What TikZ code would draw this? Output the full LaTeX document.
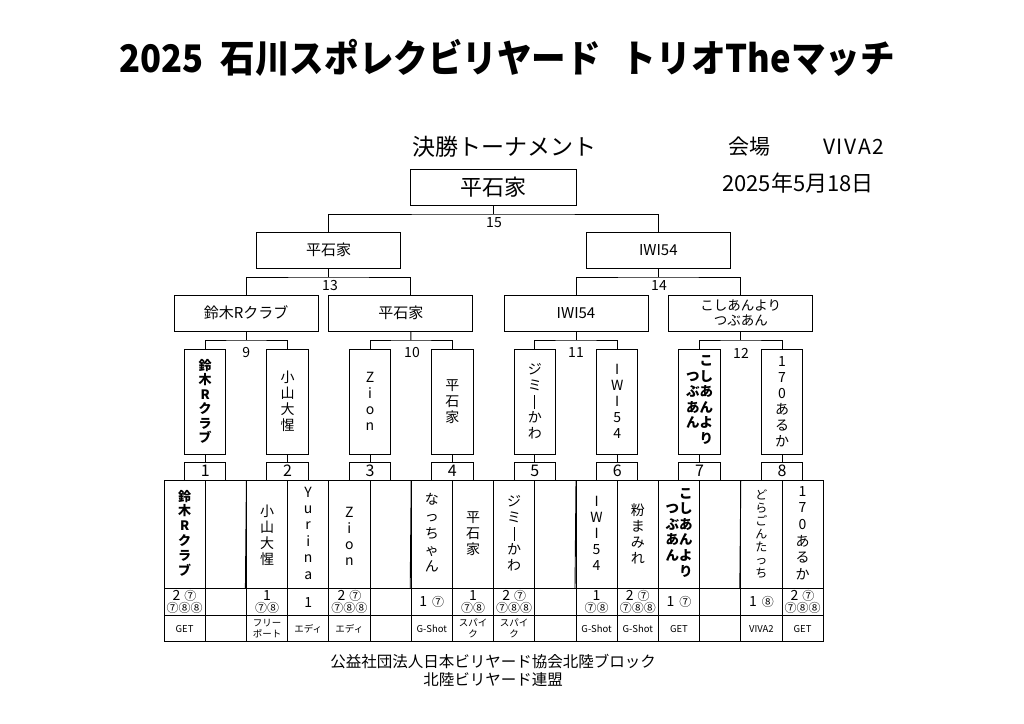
\documentclass[tikz,border=0pt]{standalone}
\usepackage{fontspec}
\usepackage{graphicx}
\setmainfont{Noto Sans CJK JP}
\newcommand\X[1]{164+41.2*(#1-0.5)}
\newcommand\B[1]{164+41.2*#1}
\newcommand\vbar{\raisebox{-2.5pt}{\rule{1.1pt}{14pt}}}
\newcommand\vcol[1]{\begin{tabular}{@{}c@{}}#1\end{tabular}}
\begin{document}
\begin{tikzpicture}[x=1pt,y=-1pt,
  conn/.style={line width=0.9pt},
  box/.style={draw, line width=0.9pt, inner sep=0pt, minimum height=36pt, align=center},
  wide/.style={box, minimum width=144pt, font=\fontsize{15}{15}\selectfont},
  vbox/.style={draw, line width=0.9pt, inner sep=0pt, minimum width=41.4pt, minimum height=105pt, align=center, font=\fontsize{14}{16}\selectfont},
  nbox/.style={draw, line width=0.9pt, inner sep=0pt, minimum width=41.4pt, minimum height=18pt, font=\fontsize{16}{16}\selectfont},
  lbl/.style={inner sep=0pt, font=\fontsize{14}{14}\selectfont},
  nm/.style={inner sep=0pt, align=center, font=\fontsize{14}{16}\selectfont},
  sc/.style={inner sep=0pt, align=center, font=\fontsize{12}{12}\selectfont},
  shop/.style={inner sep=0pt, align=center, font=\fontsize{9.5}{11}\selectfont},
  txt/.style={inner sep=0pt},
]
\fill[white] (0,0) rectangle (1024,723);
\useasboundingbox (0,0) rectangle (1024,723);

% titles
\node[txt] (title) at (507,58) {\scalebox{0.91}[1]{\fontsize{38}{38}\selectfont\bfseries 2025\hspace{0.5em}石川スポレクビリヤード\hspace{0.6em}トリオTheマッチ}};
\node[txt, anchor=west, font=\fontsize{23}{23}\selectfont] (sub) at (412,147) {決勝トーナメント};
\node[txt, anchor=west, font=\fontsize{21}{21}\selectfont] (venue) at (728,147) {会場\hspace{53pt}{\addfontfeature{LetterSpace=8}VIVA2}};
\node[txt, anchor=west, font=\fontsize{22}{22}\selectfont] (date) at (722,183) {2025年5月18日};

% final / semis / quarters
\node[box, minimum width=166pt, font=\fontsize{22}{22}\selectfont] (final) at (493,187) {平石家};
\node[wide] (sf1) at (328.7,250) {平石家};
\node[wide] (sf2) at (658.3,250) {IWI54};
\node[wide] (qf1) at (246.2,313) {鈴木Rクラブ};
\node[wide] (qf2) at (400.8,313) {平石家};
\node[wide] (qf3) at (576,313) {IWI54};
\node[wide, font=\fontsize{13.5}{15}\selectfont] (qf4) at (740.8,313) {こしあんより\\つぶあん};

\coordinate (j15) at (493,214);
\coordinate (j13) at (328.7,277);
\coordinate (j14) at (658.3,277);
\draw[conn] (final.south) -- (j15);
\draw[conn] (sf1.north) |- (j15) -| (sf2.north);
\draw[conn] (sf1.south) -- (j13);
\draw[conn] (qf1.north) |- (j13) -| ([xshift=10.1pt]qf2.north);
\draw[conn] (sf2.south) -- (j14);
\draw[conn] (qf3.north) |- (j14) -| (qf4.north);
\node[lbl] (l15) at (494,223) {15};
\node[lbl] (l13) at (330,286) {13};
\node[lbl] (l14) at (659,286) {14};

% first-round boxes
\node[vbox, font=\bfseries\fontsize{13}{14.5}\selectfont] (r1) at ({\B{1}},401.5) {鈴\\木\\R\\ク\\ラ\\ブ};
\node[vbox] (r2) at ({\B{3}},401.5) {小\\山\\大\\惺};
\node[vbox] (r3) at ({\B{5}},401.5) {Z\\i\\o\\n};
\node[vbox] (r4) at ({\B{7}},401.5) {平\\石\\家};
\node[vbox] (r5) at ({\B{9}},401.5) {ジ\\ミ\\\vbar\\か\\わ};
\node[vbox] (r6) at ({\B{11}},401.5) {I\\W\\I\\5\\4};
\node[vbox, font=\bfseries\fontsize{13.5}{15.5}\selectfont] (r7) at ({\B{13}},401.5) {\vcol{つ\\ぶ\\あ\\ん}\vcol{こ\\し\\あ\\ん\\よ\\り}};
\node[vbox] (r8) at ({\B{15}},401.5) {1\\7\\0\\あ\\る\\か};

\foreach \i/\k in {1/1,2/3,3/5,4/7,5/9,6/11,7/13,8/15}{
  \node[nbox] (n\i) at ({\B{\k}},471) {\i};
  \draw[conn] (r\i.south) -- (n\i.north);
}

\coordinate (j9) at (246.2,340);
\coordinate (j10) at (410.9,340);
\coordinate (j11) at (576,340);
\coordinate (j12) at (740.8,340);
\draw[conn] (qf1.south) -- (j9);
\draw[conn] (r1.north) |- (j9) -| (r2.north);
\draw[conn] ([xshift=10.1pt]qf2.south) -- (j10);
\draw[conn] (r3.north) |- (j10) -| (r4.north);
\draw[conn] (qf3.south) -- (j11);
\draw[conn] (r5.north) |- (j11) -| (r6.north);
\draw[conn] (qf4.south) -- (j12);
\draw[conn] (r7.north) |- (j12) -| (r8.north);
\node[lbl] (l9) at (246.2,353) {9};
\node[lbl] (l10) at (412,353) {10};
\node[lbl] (l11) at (576,353) {11};
\node[lbl] (l12) at (741,353) {12};

% table grid
\draw[conn] (164,480) rectangle ({\B{16}},641.7);
\draw[conn] (164,588) -- ({\B{16}},588);
\draw[conn] (164,615.7) -- ({\B{16}},615.7);
\foreach \k in {1,...,15}{ \draw[conn] ({\B{\k}},480) -- ({\B{\k}},641.7); }
\foreach \k in {2,6,10,14}{ \draw[conn] ({\B{\k-1}},588) -- ({\B{\k}},480); }

% names
\node[nm, font=\bfseries\fontsize{13}{14.8}\selectfont] (t1) at ({\X{1}},533) {鈴\\木\\R\\ク\\ラ\\ブ};
\node[nm] (t3) at ({\X{3}},535) {小\\山\\大\\惺};
\node[nm, font=\fontsize{14}{16.4}\selectfont] (t4) at ({\X{4}},533) {Y\\u\\r\\i\\n\\a};
\node[nm] (t5) at ({\X{5}},536) {Z\\i\\o\\n};
\node[nm, font=\fontsize{14}{16.7}\selectfont] (t7) at ({\X{7}},533) {な\\っ\\ち\\ゃ\\ん};
\node[nm] (t8) at ({\X{8}},534) {平\\石\\家};
\node[nm] (t9) at ({\X{9}},533) {ジ\\ミ\\\vbar\\か\\わ};
\node[nm] (t11) at ({\X{11}},533) {I\\W\\I\\5\\4};
\node[nm] (t12) at ({\X{12}},534) {粉\\ま\\み\\れ};
\node[nm, font=\bfseries\fontsize{13.5}{15.5}\selectfont] (t13) at ({\X{13}},534) {\vcol{つ\\ぶ\\あ\\ん}\vcol{こ\\し\\あ\\ん\\よ\\り}};
\node[nm, font=\fontsize{12}{13}\selectfont] (t15) at ({\X{15}},534) {ど\\ら\\ご\\ん\\た\\っ\\ち};
\node[nm, font=\fontsize{14}{16.7}\selectfont] (t16) at ({\X{16}},533) {1\\7\\0\\あ\\る\\か};

% scores
\newcommand\bg[1]{{\fontsize{14}{12}\selectfont #1}}
\node[sc] (s1) at ({\X{1}},602) {\bg{2}\hspace{4pt}⑦\\⑦⑧⑧};
\node[sc] (s3) at ({\X{3}},602) {\bg{1}\\⑦⑧};
\node[sc] (s4) at ({\X{4}},602) {\bg{1}};
\node[sc] (s5) at ({\X{5}},602) {\bg{2}\hspace{4pt}⑦\\⑦⑧⑧};
\node[sc] (s7) at ({\X{7}},602) {\bg{1}\hspace{5pt}⑦};
\node[sc] (s8) at ({\X{8}},602) {\bg{1}\\⑦⑧};
\node[sc] (s9) at ({\X{9}},602) {\bg{2}\hspace{4pt}⑦\\⑦⑧⑧};
\node[sc] (s11) at ({\X{11}},602) {\bg{1}\\⑦⑧};
\node[sc] (s12) at ({\X{12}},602) {\bg{2}\hspace{4pt}⑦\\⑦⑧⑧};
\node[sc] (s13) at ({\X{13}},602) {\bg{1}\hspace{5pt}⑦};
\node[sc] (s15) at ({\X{15}},602) {\bg{1}\hspace{5pt}⑧};
\node[sc] (s16) at ({\X{16}},602) {\bg{2}\hspace{4pt}⑦\\⑦⑧⑧};

% shops
\node[shop] (p1) at ({\X{1}},628.7) {GET};
\node[shop] (p3) at ({\X{3}},628.7) {フリー\\ポート};
\node[shop] (p4) at ({\X{4}},628.7) {エディ};
\node[shop] (p5) at ({\X{5}},628.7) {エディ};
\node[shop] (p7) at ({\X{7}},628.7) {G-Shot};
\node[shop] (p8) at ({\X{8}},628.7) {スパイ\\ク};
\node[shop] (p9) at ({\X{9}},628.7) {スパイ\\ク};
\node[shop] (p11) at ({\X{11}},628.7) {G-Shot};
\node[shop] (p12) at ({\X{12}},628.7) {G-Shot};
\node[shop] (p13) at ({\X{13}},628.7) {GET};
\node[shop] (p15) at ({\X{15}},628.7) {VIVA2};
\node[shop] (p16) at ({\X{16}},628.7) {GET};

% footer
\node[txt, align=center, font=\fontsize{15.5}{18.5}\selectfont] (foot) at (493,670.5) {公益社団法人日本ビリヤード協会北陸ブロック\\北陸ビリヤード連盟};
\end{tikzpicture}
\end{document}
